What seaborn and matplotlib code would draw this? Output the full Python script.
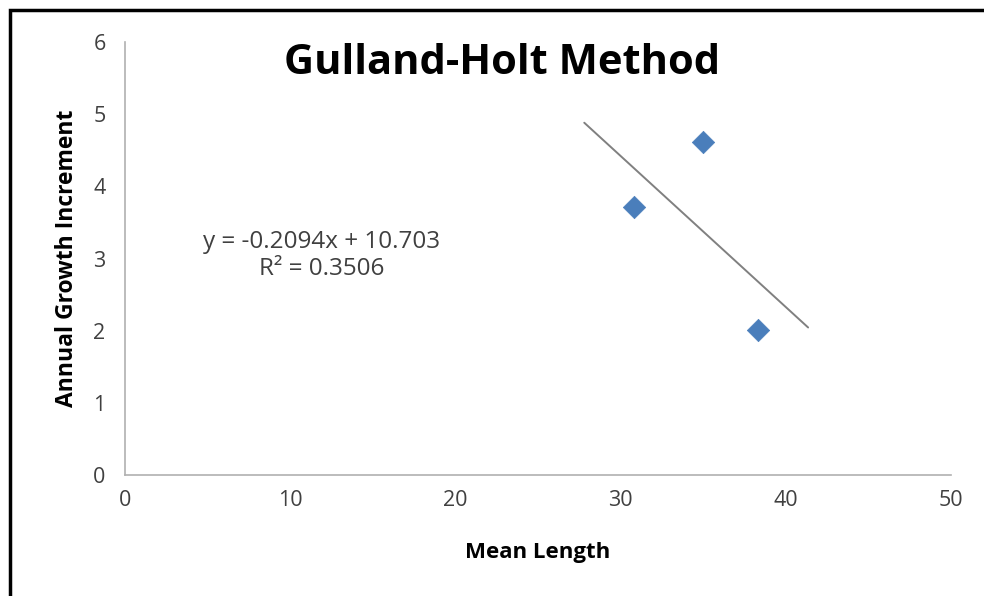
import matplotlib
matplotlib.use("Agg")
import matplotlib.pyplot as plt
import seaborn as sns
import pandas as pd
from matplotlib.patches import Rectangle

# Datos
mean_length = [30.8, 35.0, 38.3]
growth_increment = [3.72, 4.61, 2.01]

# Linea de tendencia (ecuacion de Excel)
slope = -0.2094
intercept = 10.703
r_squared = 0.3506
trend_x = [27.8, 41.35]

sns.set_style("white")
plt.rcParams['font.family'] = ['Open Sans', 'DejaVu Sans']

df = pd.DataFrame({"Mean Length": mean_length, "Annual Growth Increment": growth_increment})
trend = pd.DataFrame({"x": trend_x, "y": [slope * x + intercept for x in trend_x]})

fig = plt.figure(figsize=(9.84, 5.96), dpi=100)
ax = fig.add_axes([0.127, 0.203, 0.8395, 0.7265])

sns.lineplot(data=trend, x="x", y="y", color="#808080", linewidth=1.4, ax=ax)
sns.scatterplot(data=df, x="Mean Length", y="Annual Growth Increment", marker="D",
                s=130, color="#4a7ebb", edgecolor="#4a7ebb", linewidth=0.5, ax=ax, zorder=3)

ax.set_xlim(0, 50)
ax.set_ylim(0, 6)
ax.set_xticks(range(0, 51, 10))
ax.set_yticks(range(0, 7))

for s in ["top", "right"]:
    ax.spines[s].set_visible(False)
for s in ["left", "bottom"]:
    ax.spines[s].set_color("#b0b0b0")
    ax.spines[s].set_linewidth(1.2)
ax.tick_params(axis="both", direction="out", length=6, width=1.2, color="#b0b0b0",
               labelsize=15.5, labelcolor="#404040", pad=5)
ax.tick_params(axis="y", pad=8)

ax.set_xlabel("Mean Length", fontsize=16, fontweight="bold", labelpad=22, color="black")
ax.set_ylabel("Annual Growth Increment", fontsize=16.5, fontweight="bold", labelpad=10, color="black")

ax.text(22.8, 5.7, "Gulland-Holt Method", fontsize=30, fontweight="bold", ha="center", va="center",
        color="black")
ax.text(11.9, 3.23, f"y = {slope}x + {intercept}", fontsize=17.5, ha="center", va="center", color="#404040")
ax.text(11.9, 2.85, f"R² = {r_squared}", fontsize=17.5, ha="center", va="center", color="#404040")

# Marco negro alrededor del grafico
fig.add_artist(Rectangle((10 / 984, -0.1), 1.2, 1.1 - 10 / 596, transform=fig.transFigure,
                         fill=False, edgecolor="black", linewidth=2.5, clip_on=False))

fig.savefig("out.png", dpi=100)
